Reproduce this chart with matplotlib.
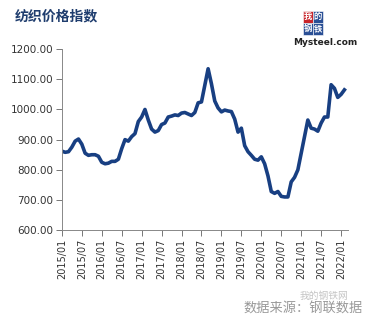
import matplotlib.pyplot as plt
from matplotlib.patches import Rectangle

plt.rcParams['font.family'] = ['Noto Sans CJK SC', 'DejaVu Sans']

# ---------- 数据 ----------
# 月度纺织价格指数，2015/01 起
start_year = 2015
index_values = [
    862, 858, 860, 875, 895, 902, 885, 855, 848, 850, 850, 845,
    825, 820, 822, 828, 828, 835, 870, 900, 895, 910, 920, 960,
    975, 1000, 965, 935, 925, 930, 950, 955, 975, 978, 982, 980,
    988, 990, 985, 980, 990, 1022, 1025, 1080, 1135, 1085, 1028, 1005,
    992, 998, 995, 993, 968, 925, 938, 880, 860, 848, 835, 832,
    843, 820, 780, 728, 722, 728, 712, 710, 710, 760, 775, 800,
    855, 910, 965, 938, 935, 928, 955, 975, 975, 1082, 1070, 1040,
    1050, 1065,
]
y_ticks = [600, 700, 800, 900, 1000, 1100, 1200]
x_tick_labels = [f'{start_year + i // 2}/{"01" if i % 2 == 0 else "07"}' for i in range(15)]

# ---------- 绘图 ----------
fig = plt.figure(figsize=(3.66, 3.17), dpi=100)
ax = fig.add_axes([0.169, 0.274, 0.782, 0.571])

months = list(range(len(index_values)))
ax.plot(months, index_values, color='#183f82', linewidth=2.6, solid_joinstyle='round')

ax.set_ylim(600, 1200)
ax.set_xlim(0, 86.1)
ax.set_yticks(y_ticks)
ax.set_yticklabels([f'{v:.2f}' for v in y_ticks], fontsize=7.5, color='#333333',
                   family='DejaVu Sans')
ax.set_xticks([i * 6 for i in range(15)])
ax.set_xticklabels(x_tick_labels, rotation=90, fontsize=7, color='#333333',
                   family='DejaVu Sans')
ax.tick_params(axis='both', direction='out', length=4, width=0.7, color='#777777', pad=2)

for side in ['top', 'right']:
    ax.spines[side].set_visible(False)
for side in ['left', 'bottom']:
    ax.spines[side].set_color('#888888')
    ax.spines[side].set_linewidth(0.7)

# 标题
fig.text(0.041, 0.948, '纺织价格指数', fontsize=10, fontweight='bold', color='#1f3d6e',
         ha='left', va='center')

# 右上角标识
logo_x, logo_y = 0.828, 0.89
cell_w, cell_h = 0.0273, 0.038
cells = [('我', '#c8242b', 0, 1), ('的', '#2a4f95', 1, 1),
         ('钢', '#2a4f95', 0, 0), ('铁', '#2a4f95', 1, 0)]
for ch, col, cx, cy in cells:
    fx = logo_x + cx * cell_w
    fy = logo_y + cy * cell_h
    fig.patches.append(Rectangle((fx, fy), cell_w, cell_h, transform=fig.transFigure,
                                 facecolor=col, edgecolor='white', linewidth=0.4))
    fig.text(fx + cell_w / 2, fy + cell_h / 2, ch, fontsize=6, color='white',
             fontweight='bold', ha='center', va='center')
fig.text(0.89, 0.865, 'Mysteel.com', fontsize=6.5, fontweight='bold', color='#222222',
         ha='center', va='center', family='DejaVu Sans')

# 数据来源
fig.text(0.951, 0.068, '我的钢铁网', fontsize=7, color='#c4c4c4', ha='right', va='center')
fig.text(0.99, 0.025, '数据来源：钢联数据', fontsize=9.5, color='#999999', ha='right',
         va='center')

fig.savefig('out.png', dpi=100)
